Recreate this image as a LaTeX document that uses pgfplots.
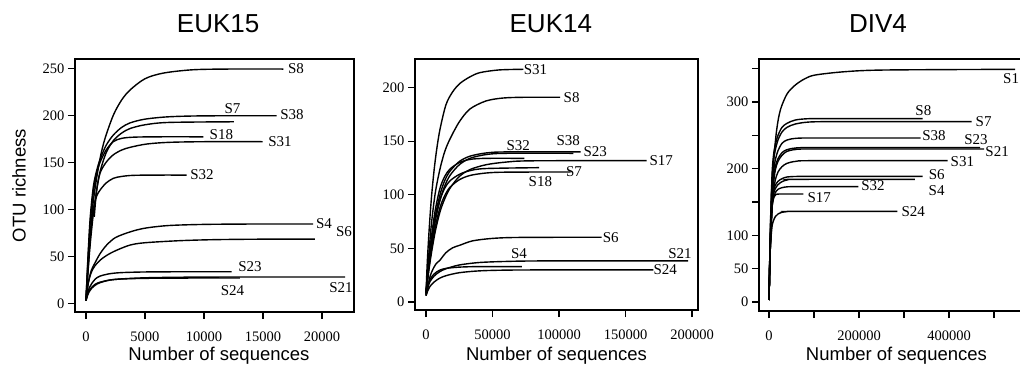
\documentclass[border=0pt]{standalone}
\usepackage{fontspec}
\setmainfont{Liberation Serif}
\newfontfamily\sansf{Liberation Sans}
\usepackage{pgfplots}
\pgfplotsset{compat=1.18}
\tikzset{lab/.style={font=\fontsize{15bp}{17bp}\selectfont, inner sep=0pt}}
\begin{document}
\begin{tikzpicture}
\useasboundingbox (0,0) rectangle (1020bp,367bp);
\clip (0,0) rectangle (1020bp,367bp);
\pgfplotsset{
 rare/.style={scale only axis, anchor=south west, clip=false, tick pos=left, tick align=outside,
   major tick length=7bp, axis line style={line width=1.2bp}, tick style={black, line width=1.2bp},
   scaled x ticks=false, scaled y ticks=false,
   tick label style={font=\fontsize{14.5bp}{16bp}\selectfont},
   xticklabel style={yshift=-9.5bp},
   title style={font=\sansf\fontsize{26bp}{30bp}\selectfont, anchor=center},
   label style={font=\sansf\fontsize{18.5bp}{21bp}\selectfont},
   xlabel style={anchor=center}},
 crv/.style={black, line width=1.4bp, smooth, no marks},
}
% ---------------- EUK15 ----------------
\begin{axis}[rare, at={(75bp,55bp)}, width=279bp, height=253bp,
  xmin=-932, xmax=22712, ymin=-9.2, ymax=260,
  xtick={0,5000,10000,15000,20000}, xticklabels={0,5000,10000,15000,20000},
  ytick={0,50,100,150,200,250}, yticklabels={0,50,100,150,200,250},
  title={EUK15}, title style={at={(axis description cs:0.513,1)}, yshift=29bp},
  xlabel={Number of sequences}, xlabel style={at={(axis description cs:0.516,0)}, yshift=-44bp},
  ylabel={OTU richness}, ylabel style={at={(axis description cs:-0.2007,0.5)}, anchor=center}]
\addplot[crv] coordinates {(0,3)(250,50)(500,95)(800,125)(1190,154)(1600,175)(2310,200)(3000,216)(3730,227)(5000,239)(6550,245)(9000,248.5)(12000,249.3)(16720,249.3)};
\addplot[crv] coordinates {(0,3)(150,45)(350,90)(620,124)(900,141)(1190,153)(1700,168)(2310,179)(3000,187)(3730,192)(5000,196)(7000,198.5)(10000,199.5)(16160,199.6)};
\addplot[crv] coordinates {(700,92)(900,120)(1190,140)(1700,160)(2310,173)(3000,181)(3730,186)(5000,190)(7000,192.5)(12540,193.2)};
\addplot[crv] coordinates {(0,3)(150,42)(350,85)(620,118)(900,138)(1190,150)(1700,163)(2310,172)(3000,175.5)(4000,176.8)(6000,177.2)(9940,177.2)};
\addplot[crv] coordinates {(0,3)(150,30)(350,62)(620,95)(900,120)(1190,138.6)(1700,150)(2310,158)(3000,163)(3730,166)(5130,169.5)(7000,171.3)(10000,172)(14970,172)};
\addplot[crv] coordinates {(0,3)(150,35)(350,70)(620,100)(900,114)(1190,120.5)(1700,128)(2310,133)(3000,135)(4000,136.2)(6000,136.5)(8530,136.5)};
\addplot[crv] coordinates {(0,4)(200,22)(450,35)(760,43)(1200,53)(1750,62)(2500,70)(3730,76)(5000,80)(7000,82.8)(10000,84)(14000,84.4)(19240,84.4)};
\addplot[crv] coordinates {(0,4)(200,22)(450,33)(760,40)(1200,46)(1750,51)(2500,56)(3730,62)(5000,64.5)(7970,66.7)(11000,67.8)(15000,68.3)(19400,68.4)};
\addplot[crv] coordinates {(0,3)(150,12)(300,17)(480,21)(800,26)(1190,29)(2000,31.5)(3000,32.7)(5000,33.4)(8000,33.6)(12350,33.6)};
\addplot[crv] coordinates {(0,3)(150,9)(300,13)(480,16)(800,19.5)(1190,22)(2000,24.7)(3000,26)(5000,27.2)(8000,27.8)(12000,28)(21950,28)};
\addplot[crv] coordinates {(0,3)(150,10)(300,14)(480,17)(800,20.5)(1190,22.5)(2000,24.8)(3000,25.9)(5000,26.6)(8000,26.9)(13050,27)};
\node[lab] at (axis cs:17800,250) {S8};
\node[lab] at (axis cs:12410,207.4) {S7};
\node[lab] at (axis cs:17460,201) {S38};
\node[lab] at (axis cs:11470,180) {S18};
\node[lab] at (axis cs:16440,172.6) {S31};
\node[lab] at (axis cs:9830,137.5) {S32};
\node[lab] at (axis cs:20170,85) {S4};
\node[lab] at (axis cs:21870,76) {S6};
\node[lab] at (axis cs:13900,39) {S23};
\node[lab] at (axis cs:21610,17) {S21};
\node[lab] at (axis cs:12420,14) {S24};
\end{axis}
% ---------------- EUK14 ----------------
\begin{axis}[rare, at={(415bp,57bp)}, width=283bp, height=251bp,
  xmin=-8270, xmax=204500, ymin=-7.5, ymax=226.7,
  xtick={0,50000,100000,150000,200000}, xticklabels={0,50000,100000,150000,200000},
  ytick={0,50,100,150,200}, yticklabels={0,50,100,150,200},
  title={EUK14}, title style={at={(axis description cs:0.48,1)}, yshift=29bp},
  xlabel={Number of sequences}, xlabel style={at={(axis description cs:0.5,0)}, yshift=-46bp}]
\addplot[crv] coordinates {(0,8)(1000,38)(2500,70)(4000,96)(6000,122)(8000,142)(10500,161)(15000,184)(20000,196)(25600,204)(33000,210)(40600,214)(55000,216.5)(73200,217.1)};
\addplot[crv] coordinates {(0,8)(2000,42)(4000,72)(7000,102)(10500,124)(14000,140)(18000,152)(25000,168)(33000,180)(45000,187.5)(58000,190.3)(75000,191)(100750,191)};
\addplot[crv] coordinates {(0,8)(2000,35)(4000,55)(7000,80)(10500,100)(14000,113)(18000,122)(25000,131)(33000,136)(45000,139)(60000,140)(116300,140)};
\addplot[crv] coordinates {(0,8)(2000,33)(4000,52)(7000,76)(10500,95)(14000,108)(18000,118)(25000,128)(33000,134)(45000,137.5)(60000,138.7)(110800,138.7)};
\addplot[crv] coordinates {(0,8)(2000,38)(4000,60)(7000,86)(10500,106)(14000,117)(18000,124)(25000,130)(33000,133)(45000,134)(73900,134)};
\addplot[crv] coordinates {(0,8)(2000,28)(4000,45)(7000,66)(10500,84)(14000,96)(18000,106)(25000,117)(33000,123.5)(45000,128)(60000,130.5)(80000,131.7)(165900,131.9)};
\addplot[crv] coordinates {(0,8)(2000,33)(4000,53)(7000,77)(10500,95)(14000,106)(18000,113)(25000,119)(33000,122.5)(45000,124.5)(85000,125.3)};
\addplot[crv] coordinates {(0,8)(2000,30)(4000,48)(7000,70)(10500,88)(14000,99)(18000,107)(25000,114)(33000,118)(45000,120.3)(60000,121.1)(108800,121.3)};
\addplot[crv] coordinates {(0,6)(1500,14)(3000,23.6)(5000,30)(7500,35.5)(10500,39)(15000,46)(20000,50.5)(25600,53)(35000,57)(50000,59.3)(70000,60.2)(132100,60.4)};
\addplot[crv] coordinates {(0,6)(1500,14)(3000,19)(6000,24)(10000,28)(15000,31)(25000,34.5)(40000,36.8)(60000,37.8)(90000,38.3)(197000,38.3)};
\addplot[crv] coordinates {(0,6)(1500,16)(3000,21)(6000,26)(10000,29.5)(15000,31.3)(25000,32.5)(40000,33)(72000,33)};
\addplot[crv] coordinates {(0,6)(1500,11)(3000,14.5)(6000,18.5)(10000,22)(15000,24.5)(25000,27.3)(40000,29)(60000,29.7)(90000,29.9)(170900,29.9)};
\node[lab] at (axis cs:82300,217) {S31};
\node[lab] at (axis cs:109500,191) {S8};
\node[lab] at (axis cs:107000,151) {S38};
\node[lab] at (axis cs:127300,140.3) {S23};
\node[lab] at (axis cs:69400,146.2) {S32};
\node[lab] at (axis cs:176900,132) {S17};
\node[lab] at (axis cs:111300,121.6) {S7};
\node[lab] at (axis cs:86000,112.3) {S18};
\node[lab] at (axis cs:138900,60.4) {S6};
\node[lab] at (axis cs:191000,45.4) {S21};
\node[lab] at (axis cs:69900,45.4) {S4};
\node[lab] at (axis cs:179900,29.9) {S24};
\end{axis}
% ---------------- DIV4 ----------------
\begin{axis}[rare, at={(759bp,56bp)}, width=290bp, height=252bp,
  xmin=-22220, xmax=622200, ymin=-13.5, ymax=364.5,
  xtick={0,100000,200000,300000,400000,500000}, xticklabels={0,,200000,,400000,},
  ytick={0,50,100,150,200,250,300,350}, yticklabels={0,50,100,,200,,300,},
  title={DIV4}, title style={at={(axis description cs:0.41,1)}, yshift=29bp},
  xlabel={Number of sequences}, xlabel style={at={(axis description cs:0.474,0)}, yshift=-45bp}]
\addplot[crv] coordinates {(0,3)(1500,60)(3000,113)(6000,170)(10400,213)(17000,258)(25200,288)(40000,312)(58500,325.5)(80000,335)(103000,340.5)(169600,345.5)(260000,348)(546700,349)};
\addplot[crv] coordinates {(0,3)(1500,60)(3000,105)(6700,190)(10000,220)(14000,236)(20000,250)(28900,262)(40000,268)(58500,273)(90000,275)(150000,275)(341500,275)};
\addplot[crv] coordinates {(0,3)(1500,55)(3000,100)(6700,180)(10000,212)(14000,228)(20000,243)(28900,255)(40000,262)(58500,267)(90000,270)(150000,270.5)(450400,270.5)};
\addplot[crv] coordinates {(0,3)(1500,55)(3000,95)(6700,165)(10000,195)(14000,213)(20000,227)(28900,238)(40000,243)(60000,245.5)(100000,246)(337000,246)};
\addplot[crv] coordinates {(0,3)(1500,55)(3000,92)(6700,155)(10000,183)(14000,203)(20000,215)(28900,224)(40000,228.5)(60000,231)(100000,231.5)(468900,231.5)};
\addplot[crv] coordinates {(0,3)(1500,52)(3000,88)(6700,150)(10000,178)(14000,198)(20000,211)(28900,220)(40000,226)(60000,228.8)(100000,229.5)(477800,229.5)};
\addplot[crv] coordinates {(0,3)(1500,50)(3000,85)(6700,140)(10000,165)(14000,183)(20000,195)(28900,203)(40000,208)(60000,211)(100000,212)(397000,212)};
\addplot[crv] coordinates {(0,3)(1500,50)(3000,85)(6700,150)(10000,167)(14000,175)(20000,181)(28900,185)(40000,187.5)(60000,188.3)(100000,188.5)(341500,188.5)};
\addplot[crv] coordinates {(0,3)(1500,48)(3000,82)(6700,145)(10000,162)(14000,170)(20000,176)(28900,180.5)(40000,183)(60000,184)(324400,184)};
\addplot[crv] coordinates {(0,3)(1500,48)(3000,82)(6700,140)(10000,155)(14000,164)(20000,169)(28900,171.5)(40000,172.7)(60000,173)(198500,173)};
\addplot[crv] coordinates {(0,3)(1500,52)(3000,90)(5000,125)(7000,145)(10400,157)(15000,161)(25000,162)(76300,162)};
\addplot[crv] coordinates {(0,3)(1500,50)(3000,83)(6700,113)(10000,122)(14000,128)(20000,132)(28900,134.5)(40000,135.5)(60000,136)(285100,136)};
\node[lab, anchor=west] at (axis cs:520000,335.5) {S1};
\node[lab] at (axis cs:343000,287) {S8};
\node[lab] at (axis cs:477000,270.5) {S7};
\node[lab] at (axis cs:366700,249.5) {S38};
\node[lab] at (axis cs:460000,243) {S23};
\node[lab] at (axis cs:507000,225.5) {S21};
\node[lab] at (axis cs:429600,210) {S31};
\node[lab] at (axis cs:372600,191.5) {S6};
\node[lab] at (axis cs:372400,167) {S4};
\node[lab] at (axis cs:231100,174) {S32};
\node[lab] at (axis cs:111800,156) {S17};
\node[lab] at (axis cs:320700,135) {S24};
\end{axis}
\end{tikzpicture}
\end{document}
